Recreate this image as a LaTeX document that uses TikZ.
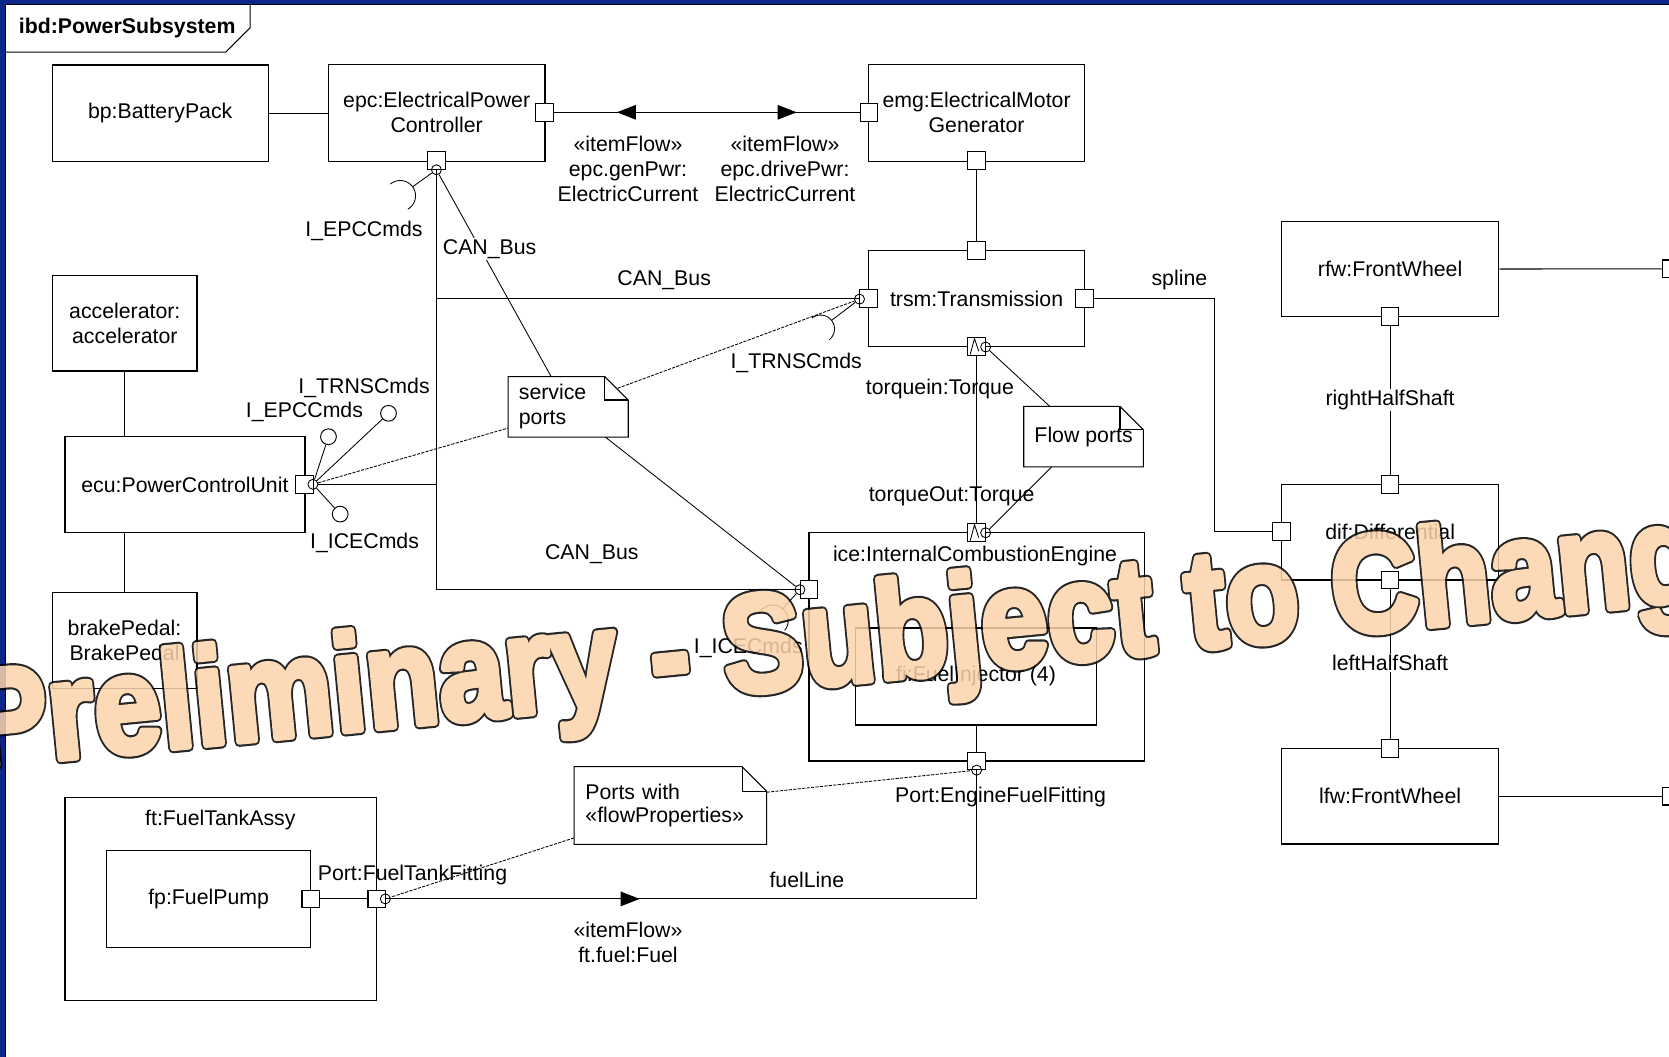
\documentclass[tikz,border=0pt]{standalone}
\usepackage{fontspec}
\setmainfont{Liberation Sans}
\usetikzlibrary{calc}
\definecolor{slideblue}{RGB}{14,38,138}
\definecolor{wmfill}{RGB}{252,212,172}

% dog-eared outline around a note node: #1 node name, #2 fold size
\newcommand\dogear[2]{%
  \draw[notedraw] (#1.north west) -- ([xshift=-#2]#1.north east) -- ([yshift=-#2]#1.north east)
     -- (#1.south east) -- (#1.south west) -- cycle;
  \draw[notedraw] ([xshift=-#2]#1.north east) |- ([yshift=-#2]#1.north east);}
% filled item-flow arrowheads on a line, tip at (#1,#2)
\newcommand\flowtipL[2]{\fill (#1,#2) -- ++(18,-7) -- ++(0,14) -- cycle;}
\newcommand\flowtipR[2]{\fill (#1,#2) -- ++(-18,-7) -- ++(0,14) -- cycle;}
% banner lettering: glyphs filled and stroked with round joins (#1 = stroke width, #2 = stroke rgb)
\newcommand\wmtext[2]{\fontsize{129.5}{131}\selectfont\bfseries\scalebox{0.868}[1]{%
  \special{pdf:literal direct 2 Tr 1 j 1 J #1 w #2 RG}Preliminary - Subject to Change\special{pdf:literal direct 0 Tr}}}

\tikzset{
  base/.style={font=\fontsize{20}{23.5}\selectfont},
  part/.style={draw, line width=1.2pt, inner sep=0pt, align=center},
  port/.style={draw, fill=white, line width=1pt, minimum size=16.5pt, inner sep=0pt},
  pin/.style={draw, circle, line width=0.8pt, minimum size=9.4pt, inner sep=0pt},
  lolly/.style={draw, fill=white, circle, line width=0.9pt, minimum size=14.8pt, inner sep=0pt},
  conn/.style={line width=1pt},
  fine/.style={line width=0.8pt},
  anchorline/.style={line width=0.8pt, dash pattern=on 3pt off 1.2pt},
  notebox/.style={inner sep=0pt, align=left},
  notedraw/.style={line width=1pt},
  lbl/.style={inner sep=1pt, align=center},
  gap/.style={lbl, fill=white},
  banner/.style={anchor=base west, rotate=5.55, inner sep=0pt},
}

\begin{document}
\begin{tikzpicture}[x=1pt,y=-1pt,every node/.style={base}]
\useasboundingbox (0,0) rectangle (1568,993);
\clip (0,0) rectangle (1568,993);
\fill[white] (0,0) rectangle (1568,993);
% slide border
\fill[slideblue] (0,0) rectangle (1568,3.5);
\fill[slideblue] (0,0) rectangle (4.5,993);
% diagram frame and name tab
\draw[line width=1.2pt] (5,1000) -- (5,4) -- (1580,4);
\node[font=\fontsize{20}{24}\selectfont\bfseries, inner sep=0pt] (title) at (119.5,26) {ibd:PowerSubsystem};
\draw[line width=1pt] (5,49) -- (212,49) -- (235,26) -- (235,4);

% parts
\node[part, minimum width=203pt, minimum height=90.5pt] (bp) at (150.5,106.25) {bp:BatteryPack};
\node[part, minimum width=203.5pt, minimum height=91pt] (epc) at (410.25,106) {epc:ElectricalPower\\Controller};
\node[part, minimum width=203pt, minimum height=91pt] (emg) at (917.5,106) {emg:ElectricalMotor\\Generator};
\node[part, minimum width=203pt, minimum height=90pt] (trsm) at (917.5,280.5) {trsm:Transmission};
\node[part, minimum width=135.5pt, minimum height=90pt] (acc) at (117.25,303.5) {accelerator:\\accelerator};
\node[part, minimum width=225.5pt, minimum height=90.5pt] (ecu) at (173.75,455.25) {ecu:PowerControlUnit};
\node[part, minimum width=136pt, minimum height=90.5pt] (brake) at (117,601.75) {brakePedal:\\BrakePedal};
\node[part, minimum width=315pt, minimum height=214.5pt] (ice) at (917.5,607.75) {};
\node[lbl] (iceLbl) at (916,522) {ice:InternalCombustionEngine};
\node[part, minimum width=226pt, minimum height=91pt] (fi) at (917,635.5) {fi:FuelInjector (4)};
\node[part, minimum width=293pt, minimum height=191pt] (ft) at (207.5,844.5) {};
\node[lbl] (ftLbl) at (207,770) {ft:FuelTankAssy};
\node[part, minimum width=192pt, minimum height=91pt] (fp) at (196,844.5) {fp:FuelPump};
\node[part, minimum width=204pt, minimum height=89.5pt] (rfw) at (1306,252.75) {rfw:FrontWheel};
\node[part, minimum width=204pt, minimum height=90pt] (dif) at (1306,500) {dif:Differential};
\node[part, minimum width=204pt, minimum height=90pt] (lfw) at (1306,748) {lfw:FrontWheel};

% ports
\node[port] (epcR) at (511.5,105.5) {};
\node[port] (epcB) at (410,151) {};
\node[port] (emgL) at (816.5,105.5) {};
\node[port] (emgB) at (917.5,151) {};
\node[port] (trsmT) at (917.5,235.5) {};
\node[port] (trsmL) at (816,280.5) {};
\node[port] (trsmR) at (1019,280.5) {};
\node[port] (trsmB) at (917.5,325.5) {};
\node[port] (ecuP) at (286,455) {};
\node[port] (iceT) at (917.5,500.5) {};
\node[port] (iceL) at (760,554) {};
\node[port] (iceB) at (917.5,715) {};
\node[port] (fpP) at (292,844.5) {};
\node[port] (ftP) at (354,844.5) {};
\node[port] (rfwB) at (1306,297.5) {};
\node[port] (rfwX) at (1570,252.5) {};
\node[port] (difT) at (1306,455) {};
\node[port] (difL) at (1204,499.5) {};
\node[port] (difB) at (1306,545) {};
\node[port] (lfwT) at (1306,703) {};
\node[port] (lfwX) at (1570,748) {};

% flow-port glyphs
\draw[fine] ([shift={(-6,7.5)}]trsmB.center) -- ++(4,-15) -- ++(4,12);
\draw[fine] ([shift={(-6,7.5)}]iceT.center) -- ++(4,-15) -- ++(4,12);

% anchor pins on ports
\node[pin] (epcBc) at (410,159.5) {};
\node[pin] (ecuPc) at (294,455) {};
\node[pin] (trsmLc) at (807.5,281) {};
\node[pin] (trsmBc) at (926,326) {};
\node[pin] (iceTc) at (926,500.5) {};
\node[pin] (iceLc) at (751.5,554) {};
\node[pin] (iceBc) at (917.5,723.5) {};
\node[pin] (ftPc) at (362,844.5) {};

% provided interfaces
\node[lolly] (lEPC) at (308.6,410.3) {};
\node[lolly] (lTRNS) at (365,388.3) {};
\node[lolly] (lICE) at (319.6,483) {};

% bend points
\coordinate (busT) at (410,280.5);
\coordinate (busM) at (410,455);
\coordinate (splineBend) at (1141,280.5);

% connectors
\draw[conn] (bp.east) -- (bp.east -| epc.west);
\draw[conn] (epcR) -- (emgL);
\flowtipL{579.5}{105.5}
\flowtipR{748.5}{105.5}
\draw[conn] (emgB) -- (trsmT);
\draw[conn] (epcB) |- (iceL);
\draw[conn] (busT) -- (trsmL);
\draw[conn] (ecuPc) -- (busM);
\draw[conn] (trsmR) -- (splineBend) |- (difL);
\draw[conn] (acc.south) -- (acc.south |- ecu.north);
\draw[conn] (brake.north) -- (brake.north |- ecu.south);
\draw[conn] (rfwB) -- (difT);
\draw[conn] (difB) -- (lfwT);
\draw[conn] (rfw.east) -- (rfwX);
\draw[conn] (lfw.east) -- (lfwX);
\draw[conn] (trsmB) -- (iceT);
\draw[conn] (fi.south) -- (fi.south |- iceB.north);
\draw[conn] (iceB) |- (ftP);
\flowtipR{601}{844.5}
\draw[conn] (fpP) -- (ftP);

% lollipop stems
\draw[fine] (ecuPc) -- (lEPC);
\draw[fine] (ecuPc) -- (lTRNS);
\draw[fine] (ecuPc) -- (lICE);

% required interfaces (sockets)
\coordinate (sockEtip) at (387.6,175.5);
\draw[fine] (epcBc) -- (sockEtip);
\draw[fine] plot[domain=-130:60, samples=40] ({376+14.4*cos(\x)},{184+14.4*sin(\x)});
\coordinate (sockTtip) at (781.2,301);
\draw[fine] (trsmLc) -- (sockTtip);
\draw[fine] plot[domain=-128:52, samples=40] ({771+13*cos(\x)},{309+13*sin(\x)});
\coordinate (sockItip) at (735.3,571.9);
\draw[fine] (iceLc) -- (sockItip);
\draw[fine] plot[domain=-140:40, samples=40] ({726+14.5*cos(\x)},{583+14.5*sin(\x)});

% notes
\node[notebox, minimum width=112.5pt, minimum height=56.5pt, text width=92.5pt] (sp) at (533.75,382.25) {service\\ports};
\dogear{sp}{22pt}
\node[notebox, align=center, minimum width=112pt, minimum height=56.5pt] (fnote) at (1018,410.25) {Flow ports};
\dogear{fnote}{22pt}
\node[notebox, minimum width=180.5pt, minimum height=72.5pt, text width=159.5pt,
      font=\fontsize{20}{21.5}\selectfont] (pw) at (629.75,756.75) {Ports with\\«flowProperties»};
\dogear{pw}{23pt}

% note anchors
\draw[fine] (epcBc) -- ($(sp.north west)+(40.5,0)$);
\draw[anchorline] ($(sp.north east)+(-10,11)$) -- (trsmLc);
\draw[fine] ($(sp.south west)+(91.5,0)$) -- (iceLc);
\draw[anchorline] (ecuPc) -- ($(sp.south west)+(0,-8.5)$);
\draw[fine] ($(fnote.north west)+(24.5,0)$) -- (trsmBc);
\draw[fine] ($(fnote.south west)+(26,0)$) -- (iceTc);
\draw[anchorline] ($(pw.north east)+(0,24)$) -- (iceBc);
\draw[anchorline] ($(pw.south west)+(0,-6)$) -- (ftPc);

% connector and port labels
\node[gap] (canA) at (460,234) {CAN\_Bus};
\node[lbl] (canB) at (624,263) {CAN\_Bus};
\node[lbl] (canC) at (556,521) {CAN\_Bus};
\node[lbl] (splineLbl) at (1108,263) {spline};
\node[lbl] (sEPC) at (342,217) {I\_EPCCmds};
\node[lbl] (sTRNS) at (748,341) {I\_TRNSCmds};
\node[lbl] (sICE) at (703,609) {I\_ICECmds};
\node[lbl] (lEPCtxt) at (286,387) {I\_EPCCmds};
\node[lbl] (lTRNStxt) at (342,364) {I\_TRNSCmds};
\node[lbl] (lICEtxt) at (342.5,510) {I\_ICECmds};
\node[lbl] (tqIn) at (883,365) {torquein:Torque};
\node[lbl] (tqOut) at (894,466) {torqueOut:Torque};
\node[lbl] (efLbl) at (940,748.5) {Port:EngineFuelFitting};
\node[lbl] (tfLbl) at (387.5,822) {Port:FuelTankFitting};
\node[lbl] (fuelLbl) at (758,827) {fuelLine};
\node[lbl] (fuelFlow) at (590,885) {«itemFlow»\\ft.fuel:Fuel};
\node[lbl] (genLbl) at (590,159) {«itemFlow»\\epc.genPwr:\\ElectricCurrent};
\node[lbl] (driveLbl) at (737.5,159) {«itemFlow»\\epc.drivePwr:\\ElectricCurrent};
\node[gap] (rhs) at (1306,376) {rightHalfShaft};
\node[gap] (lhs) at (1306,623) {leftHalfShaft};

% banner across the diagram: black rim underneath, widened peach letters on top
\begin{scope}[transparency group, opacity=0.85]
  \node[banner, text=black] (wmRim) at (-26,721) {\wmtext{10}{0 0 0}};
  \node[banner, text=wmfill] (wm) at (-26,721) {\wmtext{6}{0.988 0.831 0.675}};
\end{scope}
\end{tikzpicture}
\end{document}
